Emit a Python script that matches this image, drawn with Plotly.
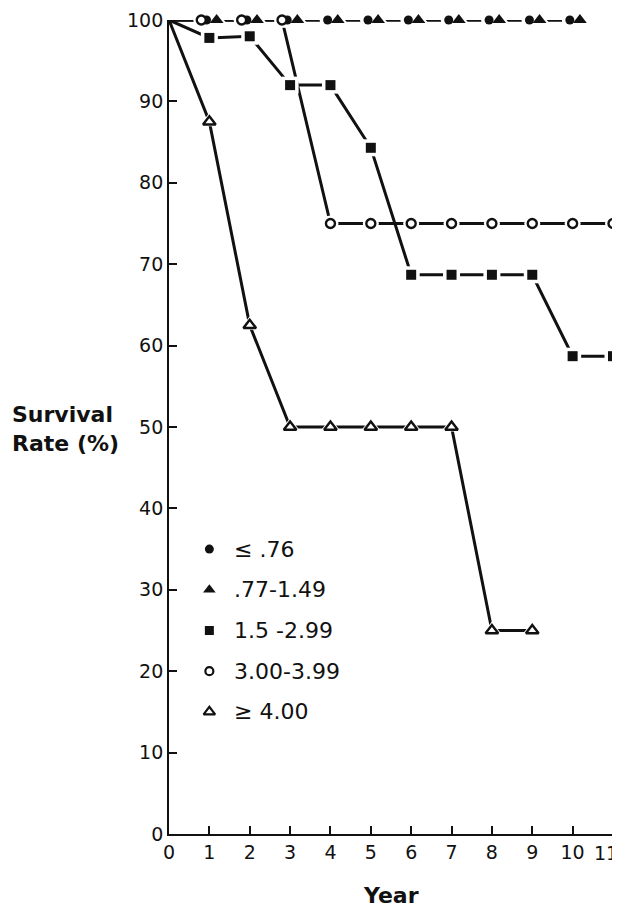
import numpy as np
import plotly.graph_objects as go

# ---- data ----
years_top = [0, 1, 2, 3, 4, 5, 6, 7, 8, 9, 10]
le076 = [100, 100, 100, 100, 100, 100, 100, 100, 100, 100, 100]
r077_149 = [100, 100, 100, 100, 100, 100, 100, 100, 100, 100, 100]
years_sq = [0, 1, 2, 3, 4, 5, 6, 7, 8, 9, 10, 11]
r150_299 = [100, 97.8, 98, 92, 92, 84.3, 68.7, 68.7, 68.7, 68.7, 58.7, 58.7]
years_oc = [0, 1, 2, 3, 4, 5, 6, 7, 8, 9, 10, 11]
r300_399 = [100, 100, 100, 100, 75, 75, 75, 75, 75, 75, 75, 75]
years_ot = [0, 1, 2, 3, 4, 5, 6, 7, 8, 9]
ge400 = [100, 87.5, 62.5, 50, 50, 50, 50, 50, 25, 25]
legend_labels = ["\u2264 .76", ".77-1.49", "1.5 -2.99", "3.00-3.99", "\u2265 4.00"]
x_ticks = list(range(0, 12))
y_ticks = list(range(0, 101, 10))

FONT = "DejaVu Sans"
BLACK = "#111111"

series = [
    dict(x=years_top, y=le076, symbol="circle", size=9, fill=BLACK, dodge=-0.07),
    dict(x=years_top, y=r077_149, symbol="triangle-up", size=12, fill=BLACK, dodge=0.18),
    dict(x=years_sq, y=r150_299, symbol="square", size=10, fill=BLACK, dodge=0.0),
    dict(x=years_oc, y=r300_399, symbol="circle", size=9, fill="white", dodge=-0.2),
    dict(x=years_ot, y=ge400, symbol="triangle-up", size=11, fill="white", dodge=0.0),
]

fig = go.Figure()

def disp_x(s):
    x = np.array(s["x"], dtype=float)
    y = np.array(s["y"], dtype=float)
    m = (y >= 100) & (x > 0)
    x[m] = x[m] + s["dodge"]
    return x, y

# lines
for s in series:
    x, y = disp_x(s)
    fig.add_trace(go.Scatter(x=x, y=y, mode="lines",
                             line=dict(color=BLACK, width=3),
                             cliponaxis=False, hoverinfo="skip", showlegend=False))
# halos (white gaps around markers)
for s in series:
    x, y = disp_x(s)
    fig.add_trace(go.Scatter(x=x[1:], y=y[1:], mode="markers",
                             marker=dict(symbol=s["symbol"], size=s["size"] + 7,
                                         color="white", line=dict(width=0)),
                             cliponaxis=False, hoverinfo="skip", showlegend=False))
# markers
for s in series:
    x, y = disp_x(s)
    fig.add_trace(go.Scatter(x=x[1:], y=y[1:], mode="markers",
                             marker=dict(symbol=s["symbol"], size=s["size"],
                                         color=s["fill"],
                                         line=dict(color=BLACK, width=2.4 if s["fill"] == "white" else 0)),
                             cliponaxis=False, showlegend=False))

# custom legend
leg_y = [35, 30, 25, 20, 15]
leg_sizes = [9, 11, 9, 8, 10]
for s, ly, lab, ms in zip(series, leg_y, legend_labels, leg_sizes):
    fig.add_trace(go.Scatter(x=[1.0], y=[ly], mode="markers",
                             marker=dict(symbol=s["symbol"], size=ms, color=s["fill"],
                                         line=dict(color=BLACK, width=2.2 if s["fill"] == "white" else 0)),
                             hoverinfo="skip", showlegend=False))
    fig.add_annotation(x=1.55, y=ly, text=lab, showarrow=False, xanchor="left",
                       yanchor="middle", font=dict(family=FONT, size=22, color=BLACK))

# axis titles
fig.add_annotation(xref="paper", yref="paper", x=-0.358, y=0.4975, xanchor="left", yanchor="middle",
                   text="<b>Survival</b><br><b>Rate (%)</b>", align="left", showarrow=False,
                   font=dict(family=FONT, size=22, color=BLACK))
fig.add_annotation(xref="paper", yref="paper", x=0.5, y=-0.075, xanchor="center", yanchor="middle",
                   text="<b>Year</b>", showarrow=False,
                   font=dict(family=FONT, size=22, color=BLACK))

# last x tick label kept inside the page edge
x_ticktext = [str(v) for v in x_ticks]
last_label = x_ticktext[-1]
x_ticktext[-1] = ""
fig.add_annotation(x=x_ticks[-1], y=0, yref="y", text=last_label, showarrow=False,
                   xanchor="right", yanchor="top", xshift=7, yshift=-6,
                   font=dict(family=FONT, size=19, color=BLACK))

fig.update_layout(
    width=620, height=912,
    margin=dict(l=161, r=15, t=12, b=86, autoexpand=False),
    paper_bgcolor="white", plot_bgcolor="white",
    font=dict(family=FONT, size=19, color=BLACK),
    xaxis=dict(range=[0, 11.0001], tickvals=x_ticks, ticktext=x_ticktext,
               ticks="inside", ticklen=8, tickwidth=1.6, tickcolor=BLACK,
               ticklabeloverflow="allow", automargin=False,
               showline=True, linecolor=BLACK, linewidth=1.8, showgrid=False, zeroline=False,
               tickfont=dict(family=FONT, size=19, color=BLACK)),
    yaxis=dict(range=[0, 100.0001], tickvals=y_ticks, ticktext=[str(v) for v in y_ticks],
               ticks="inside", ticklen=8, tickwidth=1.6, tickcolor=BLACK,
               automargin=False,
               showline=True, linecolor=BLACK, linewidth=1.8, showgrid=False, zeroline=False,
               tickfont=dict(family=FONT, size=19, color=BLACK)),
)

fig.write_html("out.html")
